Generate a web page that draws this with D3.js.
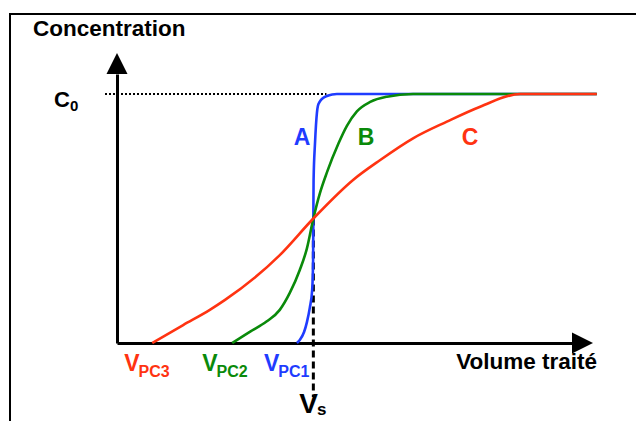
<!DOCTYPE html>
<html>
<head>
<meta charset="utf-8">
<script src="https://cdn.jsdelivr.net/npm/d3@7"></script>
<style>
  html, body { margin: 0; padding: 0; background: #fff; }
  svg { display: block; }
  text { font-family: "Liberation Sans", Arial, sans-serif; font-weight: bold; }
</style>
</head>
<body>
<svg id="chart" width="636" height="421"></svg>
<script>
// Breakthrough curves: outlet concentration versus treated volume
const curveNames = ["A", "B", "C"];
const curveColors = ["#1f3cff", "#0a8a0a", "#ff3311"];

// volume (arbitrary units), concentration as fraction of C0
const volA = [37.8, 38.4, 39.3, 39.9, 40.5, 41.0, 41.2, 41.25, 41.3, 41.6, 42.0, 42.2, 42.6, 43.3, 44.1, 45.2, 46.2, 100.8];
const concA = [0, 0.012, 0.044, 0.084, 0.141, 0.213, 0.333, 0.5, 0.655, 0.803, 0.924, 0.952, 0.969, 0.984, 0.992, 0.998, 1, 1];

const volB = [24.2, 27.9, 31.4, 34.2, 36.3, 38.4, 39.9, 41.25, 42.6, 44.1, 46.5, 48.3, 50.4, 53.2, 56.7, 62.2, 100.8];
const concB = [0, 0.045, 0.086, 0.133, 0.201, 0.293, 0.38, 0.5, 0.60, 0.685, 0.80, 0.872, 0.93, 0.968, 0.989, 1, 1];

const volC = [7.4, 13.9, 19.5, 22.7, 34.2, 41.25, 49.6, 55.3, 62.2, 69.3, 76.3, 84.7, 100.8];
const concC = [0, 0.072, 0.133, 0.173, 0.353, 0.5, 0.655, 0.735, 0.822, 0.889, 0.949, 1, 1];

// breakthrough volumes and stoichiometric volume
const vpcLabels = ["PC3", "PC2", "PC1"];
const vpcValues = [7.4, 24.2, 37.8];
const vsValue = 41.25;

const axisTitleY = "Concentration";
const axisTitleX = "Volume traité";

const svg = d3.select("#chart");

// outer frame (runs off the right and bottom edges)
svg.append("rect")
  .attr("x", 10).attr("y", 14)
  .attr("width", 700).attr("height", 500)
  .attr("fill", "none").attr("stroke", "#000").attr("stroke-width", 2);

const x = d3.scaleLinear().domain([0, 100]).range([117, 593]);
const y = d3.scaleLinear().domain([0, 1]).range([343, 94]);
const yAxisTop = 1.165;   // arrow tip of the concentration axis
const xAxisEnd = 100;     // arrow tip of the volume axis
const arrowLen = 21, arrowHalf = 10.5;

// C0 reference level (dotted)
svg.append("line")
  .attr("x1", 105).attr("x2", x(44))
  .attr("y1", y(1)).attr("y2", y(1))
  .attr("stroke", "#000").attr("stroke-width", 2)
  .attr("stroke-dasharray", "2,2");

// Vs marker (dashed)
svg.append("line")
  .attr("x1", x(vsValue)).attr("x2", x(vsValue))
  .attr("y1", y(0.5)).attr("y2", 397)
  .attr("stroke", "#000").attr("stroke-width", 3)
  .attr("stroke-dasharray", "7,4");

// axes: plain domain lines without ticks
const yAxisScale = d3.scaleLinear().domain([0, yAxisTop]).range([y(0), y(yAxisTop) + arrowLen]);
const xAxisScale = d3.scaleLinear().domain([0, xAxisEnd]).range([x(0), x(xAxisEnd) - arrowLen]);

const gy = svg.append("g").attr("transform", `translate(${x(0)},0)`)
  .call(d3.axisLeft(yAxisScale).tickValues([]).tickSizeOuter(0));
const gx = svg.append("g").attr("transform", `translate(0,${y(0)})`)
  .call(d3.axisBottom(xAxisScale).tickValues([]).tickSizeOuter(0));
[gy, gx].forEach(g => g.select(".domain").attr("stroke", "#000").attr("stroke-width", 3));

// arrowheads
const ty = y(yAxisTop);
svg.append("path")
  .attr("d", `M${x(0)},${ty}L${x(0) + arrowHalf},${ty + arrowLen}L${x(0) - arrowHalf},${ty + arrowLen}Z`)
  .attr("fill", "#000");
const tx = x(xAxisEnd);
svg.append("path")
  .attr("d", `M${tx},${y(0)}L${tx - arrowLen},${y(0) - arrowHalf}L${tx - arrowLen},${y(0) + arrowHalf}Z`)
  .attr("fill", "#000");

// curves
const series = [
  { vol: volA, conc: concA },
  { vol: volB, conc: concB },
  { vol: volC, conc: concC }
];
const line = d3.line()
  .x(d => x(d[0])).y(d => y(d[1]))
  .curve(d3.curveMonotoneX);
series.forEach((s, i) => {
  svg.append("path")
    .datum(s.vol.map((v, k) => [v, s.conc[k]]))
    .attr("d", line)
    .attr("fill", "none")
    .attr("stroke", curveColors[i])
    .attr("stroke-width", 2.6)
    .attr("stroke-linejoin", "round");
});

// curve names
const namePos = [[302, 145], [366, 145], [470, 145]];
curveNames.forEach((n, i) => {
  svg.append("text")
    .attr("x", namePos[i][0]).attr("y", namePos[i][1])
    .attr("text-anchor", "middle")
    .attr("font-size", 23)
    .attr("fill", curveColors[i])
    .text(n);
});

// axis titles
svg.append("text").attr("x", 33).attr("y", 36)
  .attr("font-size", 22.5).attr("fill", "#000").text(axisTitleY);
svg.append("text").attr("x", 597).attr("y", 369)
  .attr("text-anchor", "end")
  .attr("font-size", 22.5).attr("fill", "#000").text(axisTitleX);

// C0 label
const c0 = svg.append("text").attr("x", 54).attr("y", 107)
  .attr("font-size", 22).attr("fill", "#000");
c0.append("tspan").text("C");
c0.append("tspan").attr("font-size", 15).attr("dy", 4).text("0");

// breakthrough volume labels
const vpcColors = [curveColors[2], curveColors[1], curveColors[0]];
const vpcOffsets = [-28, -30, -33];
vpcLabels.forEach((lab, i) => {
  const t = svg.append("text")
    .attr("x", x(vpcValues[i]) + vpcOffsets[i]).attr("y", 371)
    .attr("font-size", 23).attr("fill", vpcColors[i]);
  t.append("tspan").text("V");
  t.append("tspan").attr("font-size", 16).attr("dy", 6).attr("dx", -1).text(lab);
});

// Vs label
const vs = svg.append("text").attr("x", x(vsValue) - 14).attr("y", 413)
  .attr("font-size", 28).attr("fill", "#000");
vs.append("tspan").text("V");
vs.append("tspan").attr("font-size", 17).attr("dy", 2).attr("dx", -1).text("s");
</script>
</body>
</html>
